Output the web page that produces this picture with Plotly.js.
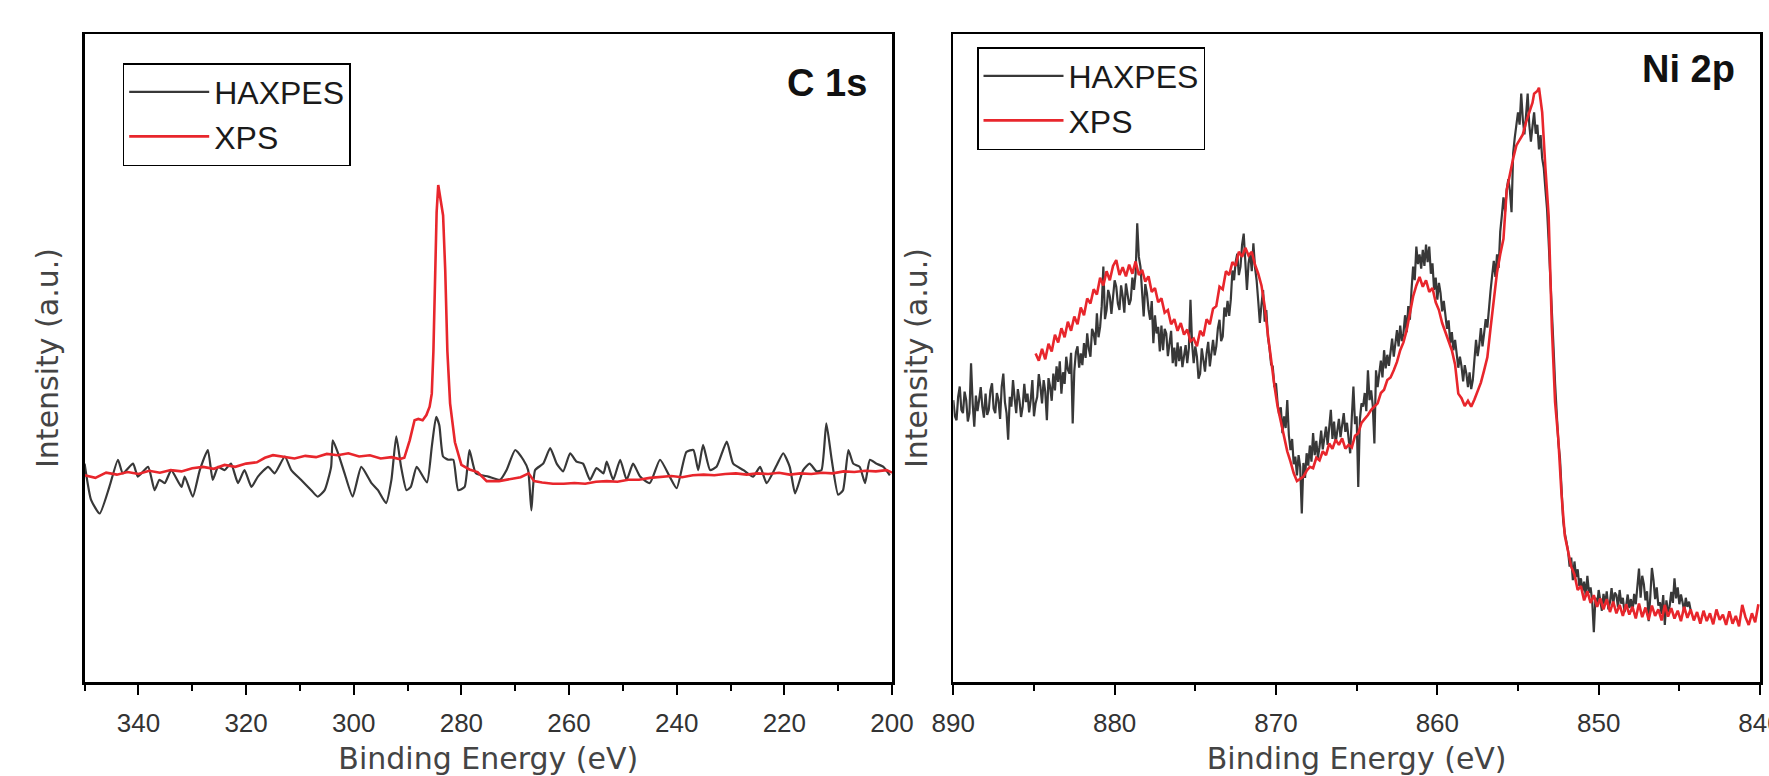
<!DOCTYPE html>
<html>
<head>
<meta charset="utf-8">
<script src="https://cdn.plot.ly/plotly-3.0.1.min.js"></script>
<style>html,body{margin:0;padding:0;background:#fff;}#chart{width:1769px;height:776px;}</style>
</head>
<body>
<div id="chart"></div>
<script>
// ---------- C 1s panel ----------
const c1sHaxpesE = [350.0,348.8,347.2,345.4,343.8,342.9,341.0,340.1,338.2,337.0,
  336.1,335.1,333.9,332.0,331.4,329.9,328.6,327.1,326.2,325.2,
  324.0,322.8,321.5,320.3,319.0,317.8,315.9,314.7,312.8,311.6,
  309.8,307.9,306.7,305.4,304.2,303.9,302.9,301.7,300.2,298.6,
  296.7,295.5,294.0,293.0,292.1,291.2,290.2,289.4,288.3,286.4,
  285.5,284.7,284.1,283.4,282.4,281.5,280.6,279.4,278.5,277.3,
  275.0,272.8,271.6,270.0,268.5,267.6,267.0,266.3,264.8,263.5,
  262.3,261.1,259.8,258.6,257.4,256.1,254.9,253.6,253.0,251.8,
  250.5,249.3,248.1,246.8,245.0,243.1,241.3,240.0,238.2,236.9,
  236.0,235.1,233.8,232.6,230.7,229.5,227.6,225.8,224.5,223.3,
  221.4,220.2,219.0,218.0,216.5,215.3,214.0,213.1,212.2,211.2,
  210.0,209.1,208.1,207.2,206.0,205.0,204.1,202.9,201.6,200.4];
const c1sHaxpesI = [33.7,28.1,26.0,30.1,34.3,32.2,33.7,31.7,33.2,29.6,
  31.2,30.7,32.7,30.1,31.7,28.6,32.7,35.8,31.2,33.2,
  32.7,33.7,30.7,32.7,30.1,31.7,33.2,32.2,34.8,32.7,
  31.2,29.6,28.6,29.6,33.2,37.3,35.3,32.2,28.6,33.2,
  30.7,29.6,27.6,31.2,37.9,33.2,29.6,30.1,33.2,30.8,
  36.3,40.9,39.6,34.8,34.3,34.3,29.6,30.1,35.8,32.2,
  31.7,31.2,32.7,35.8,34.3,32.7,26.5,32.7,33.7,36.1,
  33.7,32.5,35.3,34.0,33.7,31.2,33.0,32.2,34.0,31.2,
  34.3,31.2,33.7,31.7,30.7,34.3,31.7,29.9,35.5,35.8,
  32.7,36.6,32.7,33.2,37.1,33.7,32.7,31.7,33.2,30.7,
  33.5,35.3,33.2,29.1,32.7,33.7,32.5,32.7,39.9,34.3,
  28.9,29.6,35.8,33.7,33.2,30.7,34.3,33.7,33.2,31.9];

const c1sXpsE = [350,348,346,344,342,340,338,336,334,332,
  330,328,326,324,322,320,318,316.5,315,313,
  311,309,307,305,303,301,299,297,295,293,
  291.5,290.6,289.6,288.7,288.0,287.2,286.5,285.9,285.5,285.2,
  284.9,284.6,284.3,284.1,283.8,283.4,283.0,282.6,282.1,281.2,
  280,278.5,277,275.3,273,271,269,267.5,266.5,265,
  263,261,259,257,255,253,251,249,247,245,
  243,241,239,237,235,233,231,229,227,225,
  223,221,219,217,215,213,211,209,207,205,
  203,201,200];
const c1sXpsI = [31.9,31.5,32.3,32.0,32.4,32.1,32.6,32.3,32.7,32.5,
  33.0,33.2,32.9,33.5,33.2,33.7,33.9,34.6,35.0,34.8,
  34.5,34.9,34.7,35.2,35.0,35.3,34.8,35.0,34.5,34.7,
  34.4,34.6,37.3,40.4,40.6,40.4,41.2,42.5,44.5,51.0,
  63.5,72.5,76.7,75.5,74.5,72.0,63.5,51.0,43.0,37.0,
  33.5,32.8,32.4,31.0,31.0,31.3,31.6,32.2,31.0,30.8,
  30.6,30.6,30.7,30.6,30.9,31.0,30.9,31.2,31.2,31.5,
  31.6,31.8,31.6,31.9,32.0,31.9,32.1,32.2,32.0,32.2,
  32.1,32.3,32.0,32.2,32.1,32.3,32.2,32.5,32.4,32.6,
  32.5,32.7,32.3];

// ---------- Ni 2p panel: [binding energy (eV), intensity] ----------
const ni2pHaxpes = [
  [890.0,43.5],[889.9,41.0],[889.8,40.4],[889.7,44.0],[889.6,45.6],[889.5,42.0],[889.4,41.5],[889.3,44.8],[889.2,43.5],[889.1,40.2],
  [889.0,41.5],[888.9,49.2],[888.8,43.0],[888.7,39.4],[888.6,44.2],[888.5,41.8],[888.4,43.5],[888.3,45.5],[888.2,42.5],[888.1,40.8],
  [888.0,44.5],[887.9,41.2],[887.8,42.0],[887.7,45.0],[887.6,46.1],[887.5,42.2],[887.4,41.5],[887.3,44.6],[887.2,43.5],[887.1,40.6],
  [887.0,45.6],[886.9,47.6],[886.8,43.2],[886.7,41.5],[886.6,37.4],[886.5,44.0],[886.4,42.5],[886.3,46.6],[886.2,43.8],[886.1,41.5],
  [886.0,45.2],[885.9,43.5],[885.8,40.9],[885.7,42.5],[885.6,46.0],[885.5,43.2],[885.4,44.5],[885.3,41.6],[885.2,43.5],[885.1,46.6],
  [885.0,41.0],[884.9,43.0],[884.8,44.0],[884.7,47.5],[884.6,45.6],[884.5,43.0],[884.4,46.6],[884.3,44.8],[884.2,40.4],[884.1,46.9],
  [884.0,45.6],[883.9,43.4],[883.8,47.6],[883.7,45.0],[883.6,48.7],[883.5,46.3],[883.4,49.5],[883.3,44.5],[883.2,47.8],[883.1,46.0],
  [883.0,50.2],[882.9,48.2],[882.8,47.6],[882.7,50.8],[882.6,39.9],[882.5,48.0],[882.4,50.9],[882.3,51.8],[882.2,48.5],[882.1,50.7],
  [882.0,48.9],[881.9,52.3],[881.8,50.0],[881.7,53.8],[881.6,51.4],[881.5,50.2],[881.4,54.5],[881.3,53.8],[881.2,52.0],[881.1,56.9],
  [881.0,53.2],[880.9,54.8],[880.8,58.0],[880.7,64.1],[880.6,56.0],[880.5,57.4],[880.4,60.5],[880.3,59.5],[880.2,56.8],[880.1,59.0],
  [880.0,62.0],[879.9,61.0],[879.8,58.4],[879.7,57.4],[879.6,61.2],[879.5,59.5],[879.4,57.0],[879.3,61.5],[879.2,60.0],[879.1,58.2],
  [879.0,59.0],[878.9,62.4],[878.8,60.5],[878.7,63.0],[878.6,70.8],[878.5,65.6],[878.4,64.1],[878.3,59.6],[878.2,56.4],[878.1,61.4],
  [878.0,60.0],[877.9,57.5],[877.8,55.9],[877.7,58.8],[877.6,52.3],[877.5,56.6],[877.4,53.8],[877.3,54.8],[877.2,51.0],[877.1,55.0],
  [877.0,51.2],[876.9,54.5],[876.8,53.8],[876.7,50.3],[876.6,52.8],[876.5,54.2],[876.4,49.2],[876.3,51.6],[876.2,48.7],[876.1,52.4],
  [876.0,49.5],[875.9,51.8],[875.8,48.6],[875.7,50.7],[875.6,52.0],[875.5,49.2],[875.4,51.5],[875.3,59.0],[875.2,52.2],[875.1,49.2],
  [875.0,51.8],[874.9,50.2],[874.8,46.8],[874.7,47.6],[874.6,51.5],[874.5,49.7],[874.4,47.9],[874.3,50.7],[874.2,52.5],[874.1,48.7],
  [874.0,51.0],[873.9,52.8],[873.8,50.4],[873.7,51.8],[873.6,54.6],[873.5,55.9],[873.4,52.6],[873.3,53.3],[873.2,57.8],[873.1,56.4],
  [873.0,58.8],[872.9,56.5],[872.8,59.0],[872.7,63.5],[872.6,62.0],[872.5,64.8],[872.4,66.1],[872.3,62.8],[872.2,64.1],[872.1,67.5],
  [872.0,69.2],[871.9,65.0],[871.8,60.5],[871.7,64.6],[871.6,66.2],[871.5,63.4],[871.4,67.7],[871.3,64.0],[871.2,62.0],[871.1,58.8],
  [871.0,55.4],[870.9,58.2],[870.8,60.5],[870.7,55.6],[870.6,57.4],[870.5,53.2],[870.4,51.5],[870.3,49.0],[870.2,48.7],[870.1,45.5],
  [870.0,46.1],[869.9,43.0],[869.8,41.2],[869.7,42.4],[869.6,38.4],[869.5,41.0],[869.4,39.2],[869.3,43.5],[869.2,38.0],[869.1,35.8],
  [869.0,37.5],[868.9,33.6],[868.8,34.8],[868.7,31.9],[868.6,35.0],[868.5,33.2],[868.4,26.0],[868.3,33.8],[868.2,31.5],[868.1,35.3],
  [868.0,33.4],[867.9,36.5],[867.8,34.0],[867.7,38.4],[867.6,35.0],[867.5,37.2],[867.4,34.6],[867.3,36.3],[867.2,38.8],[867.1,35.9],
  [867.0,37.7],[866.9,39.4],[866.8,36.6],[866.7,38.9],[866.6,42.0],[866.5,37.5],[866.4,40.2],[866.3,36.9],[866.2,38.4],[866.1,40.6],
  [866.0,37.8],[865.9,39.5],[865.8,41.5],[865.7,38.6],[865.6,40.0],[865.5,37.6],[865.4,35.3],[865.3,40.9],[865.2,45.6],[865.1,39.8],
  [865.0,41.0],[864.9,30.1],[864.8,40.5],[864.7,43.0],[864.6,42.5],[864.5,44.6],[864.4,41.8],[864.3,48.1],[864.2,43.5],[864.1,45.0],
  [864.0,42.6],[863.9,36.8],[863.8,48.1],[863.7,45.5],[863.6,47.4],[863.5,49.6],[863.4,47.0],[863.3,51.2],[863.2,48.4],[863.1,50.5],
  [863.0,48.8],[862.9,50.7],[862.8,53.0],[862.7,50.2],[862.6,52.4],[862.5,54.3],[862.4,51.8],[862.3,55.0],[862.2,52.6],[862.1,53.8],
  [862.0,56.6],[861.9,54.0],[861.8,58.0],[861.7,55.9],[861.6,60.5],[861.5,64.1],[861.4,62.0],[861.3,67.2],[861.2,64.5],[861.1,66.0],
  [861.0,63.8],[860.9,66.7],[860.8,64.2],[860.7,67.5],[860.6,64.8],[860.5,67.2],[860.4,63.0],[860.3,64.6],[860.2,60.5],[860.1,62.4],
  [860.0,59.0],[859.9,61.6],[859.8,60.0],[859.7,57.2],[859.6,58.8],[859.5,56.4],[859.4,54.5],[859.3,55.8],[859.2,52.3],[859.1,54.0],
  [859.0,51.2],[858.9,52.8],[858.8,50.7],[858.7,48.5],[858.6,50.2],[858.5,48.7],[858.4,46.4],[858.3,48.9],[858.2,47.6],[858.1,45.5],
  [858.0,47.8],[857.9,45.2],[857.8,46.6],[857.7,49.5],[857.6,52.8],[857.5,50.3],[857.4,52.0],[857.3,54.6],[857.2,51.8],[857.1,53.8],
  [857.0,56.0],[856.9,54.7],[856.8,57.9],[856.7,60.4],[856.6,62.8],[856.5,65.0],[856.4,62.5],[856.3,66.0],[856.2,63.9],[856.1,69.5],
  [856.0,72.0],[855.9,74.8],[855.8,72.6],[855.7,76.0],[855.6,77.6],[855.5,75.8],[855.4,72.5],[855.3,81.6],[855.2,84.0],[855.1,86.2],
  [855.0,87.9],[854.9,86.0],[854.8,90.8],[854.7,86.8],[854.6,84.5],[854.5,87.5],[854.4,90.8],[854.3,86.0],[854.2,83.4],[854.1,85.8],
  [854.0,87.9],[853.9,84.6],[853.8,86.0],[853.7,82.2],[853.6,84.4],[853.5,80.8],[853.4,79.3],[853.3,76.0],[853.2,73.0],[853.1,68.0],
  [853.0,63.3],[852.9,57.6],[852.8,51.8],[852.7,46.0],[852.6,40.4],[852.5,37.0],[852.4,34.6],[852.3,29.0],[852.2,24.9],[852.1,23.0],
  [852.0,21.4],[851.9,20.3],[851.8,17.8],[851.7,19.2],[851.6,15.7],[851.5,18.6],[851.4,16.2],[851.3,17.4],[851.2,14.8],[851.1,16.0],
  [851.0,14.0],[850.9,15.5],[850.8,13.2],[850.7,16.4],[850.6,13.8],[850.5,14.6],[850.4,12.5],[850.3,7.7],[850.2,13.0],[850.1,11.6],
  [850.0,14.2],[849.9,12.8],[849.8,11.0],[849.7,13.6],[849.6,11.9],[849.5,14.0],[849.4,11.2],[849.3,12.3],[849.2,14.5],[849.1,12.0],
  [849.0,13.8],[848.9,13.4],[848.8,11.5],[848.7,14.2],[848.6,12.1],[848.5,13.0],[848.4,10.8],[848.3,11.7],[848.2,13.5],[848.1,11.4],
  [848.0,12.8],[847.9,10.9],[847.8,13.6],[847.7,12.0],[847.6,14.6],[847.5,17.5],[847.4,13.0],[847.3,16.4],[847.2,15.1],[847.1,12.6],
  [847.0,14.0],[846.9,9.4],[846.8,13.2],[846.7,17.6],[846.6,15.7],[846.5,12.8],[846.4,14.6],[846.3,11.8],[846.2,12.3],[846.1,10.5],
  [846.0,13.4],[845.9,8.8],[845.8,12.6],[845.7,10.8],[845.6,11.7],[845.5,13.9],[845.4,12.2],[845.3,16.0],[845.2,12.9],[845.1,14.6],
  [845.0,12.0],[844.9,13.5],[844.8,12.3],[844.7,10.9],[844.6,13.0],[844.5,11.6],[844.4,12.4],[844.3,11.1]
];
const ni2pXps = [
  [884.9,50.7],[884.7,49.6],[884.5,51.4],[884.3,49.8],[884.1,52.2],[883.9,51.0],[883.7,53.6],[883.5,52.4],[883.3,54.6],[883.1,53.2],
  [882.9,55.6],[882.7,54.2],[882.5,56.4],[882.3,55.2],[882.1,57.8],[881.9,56.6],[881.7,59.2],[881.5,58.4],[881.3,60.6],[881.1,59.8],
  [880.9,62.4],[880.7,61.2],[880.5,63.4],[880.3,62.0],[880.1,64.2],[879.9,65.1],[879.7,62.8],[879.5,64.0],[879.3,62.6],[879.1,64.4],
  [878.9,63.0],[878.7,64.9],[878.5,62.8],[878.3,63.6],[878.1,61.8],[877.9,62.6],[877.7,60.2],[877.5,60.8],[877.3,58.6],[877.1,59.2],
  [876.9,57.0],[876.7,57.4],[876.5,55.2],[876.3,56.0],[876.1,54.2],[875.9,55.4],[875.7,53.6],[875.5,54.4],[875.3,52.6],[875.1,53.0],
  [874.9,51.8],[874.7,54.2],[874.5,53.4],[874.3,56.0],[874.1,55.2],[873.9,57.6],[873.7,58.0],[873.5,61.0],[873.3,60.6],[873.1,63.4],
  [872.9,62.8],[872.7,64.8],[872.5,64.2],[872.3,66.4],[872.1,65.6],[871.9,67.0],[871.7,65.8],[871.5,66.4],[871.3,64.4],[871.1,63.0],
  [870.9,61.2],[870.7,58.0],[870.5,53.6],[870.3,49.2],[870.1,45.8],[869.9,42.5],[869.7,40.2],[869.5,38.4],[869.3,35.6],[869.1,34.0],
  [868.9,32.2],[868.7,31.0],[868.5,31.4],[868.3,31.7],[868.1,32.6],[867.9,33.2],[867.7,33.0],[867.5,34.6],[867.3,34.2],[867.1,35.6],
  [866.9,35.0],[866.7,36.8],[866.5,36.0],[866.3,37.4],[866.1,36.6],[865.9,37.6],[865.7,36.0],[865.5,36.6],[865.3,36.2],[865.1,38.0],
  [864.9,38.4],[864.7,40.0],[864.5,40.6],[864.3,41.2],[864.1,42.0],[863.9,42.5],[863.7,43.0],[863.5,44.6],[863.3,45.1],[863.1,46.6],
  [862.9,47.0],[862.7,48.1],[862.5,49.4],[862.3,51.2],[862.1,52.4],[861.9,54.3],[861.7,57.0],[861.5,59.5],[861.3,61.2],[861.1,62.5],
  [860.9,61.0],[860.7,62.0],[860.5,60.2],[860.3,60.8],[860.1,58.6],[859.9,57.4],[859.7,55.4],[859.5,54.0],[859.3,52.6],[859.1,51.2],
  [858.9,49.0],[858.7,44.5],[858.5,43.8],[858.3,42.6],[858.1,43.4],[857.9,42.5],[857.7,43.6],[857.5,45.0],[857.3,46.2],[857.1,48.1],
  [856.9,50.1],[856.7,54.6],[856.5,59.3],[856.3,63.2],[856.1,66.0],[855.9,68.4],[855.7,75.9],[855.5,78.6],[855.3,80.8],[855.1,82.8],
  [854.9,83.6],[854.7,84.5],[854.5,86.4],[854.3,87.9],[854.1,89.4],[854.0,90.8],[853.8,91.2],[853.7,91.7],[853.5,87.9],[853.3,79.3],
  [853.1,71.9],[853.0,63.3],[852.9,54.7],[852.7,43.2],[852.5,37.5],[852.3,28.9],[852.1,22.6],[851.9,20.2],[851.7,17.8],[851.5,16.6],
  [851.3,14.2],[851.1,14.8],[850.9,12.6],[850.7,14.0],[850.5,12.2],[850.3,13.4],[850.1,11.6],[849.9,12.9],[849.7,11.2],[849.5,12.8],
  [849.3,10.8],[849.1,12.4],[848.9,10.6],[848.7,11.9],[848.5,10.2],[848.3,12.0],[848.1,10.4],[847.9,11.6],[847.7,9.8],[847.5,12.1],
  [847.3,10.0],[847.1,11.5],[846.9,9.6],[846.7,11.8],[846.5,10.2],[846.3,11.2],[846.1,9.5],[845.9,11.9],[845.7,10.1],[845.5,11.4],
  [845.3,9.8],[845.1,11.0],[844.9,9.4],[844.7,11.6],[844.5,9.9],[844.3,11.2],[844.1,9.5],[843.9,10.8],[843.7,9.0],[843.5,11.0],
  [843.3,9.4],[843.1,10.6],[842.9,8.9],[842.7,11.2],[842.5,9.6],[842.3,10.4],[842.1,8.8],[841.9,10.9],[841.7,9.0],[841.5,10.2],
  [841.3,8.6],[841.1,11.9],[840.9,10.0],[840.7,8.8],[840.5,10.6],[840.3,9.2],[840.1,12.0]
];

const seriesNames = ['HAXPES', 'XPS'];
const panelLabels = ['C 1s', 'Ni 2p'];
const c1sTicks = [340, 320, 300, 280, 260, 240, 220, 200];
const ni2pTicks = [890, 880, 870, 860, 850, 840];

const BLACK = '#383838', RED = '#e8262c';
const tickFont = {family: 'Liberation Sans, Arial, sans-serif', size: 26, color: '#333'};
const titleFont = {family: 'DejaVu Sans, sans-serif', size: 30, color: '#444'};
const legFont = {family: 'Liberation Sans, Arial, sans-serif', size: 32, color: '#1a1a1a'};

const traces = [
  {x: c1sHaxpesE, y: c1sHaxpesI, name: seriesNames[0], type: 'scatter', mode: 'lines',
   line: {color: BLACK, width: 2.2, shape: 'spline', smoothing: 0.5}, xaxis: 'x', yaxis: 'y', legend: 'legend'},
  {x: c1sXpsE, y: c1sXpsI, name: seriesNames[1], type: 'scatter', mode: 'lines',
   line: {color: RED, width: 2.6}, xaxis: 'x', yaxis: 'y', legend: 'legend'},
  {x: ni2pHaxpes.map(p => p[0]), y: ni2pHaxpes.map(p => p[1]), name: seriesNames[0], type: 'scatter', mode: 'lines',
   line: {color: BLACK, width: 2.2}, xaxis: 'x2', yaxis: 'y2', legend: 'legend2'},
  {x: ni2pXps.map(p => p[0]), y: ni2pXps.map(p => p[1]), name: seriesNames[1], type: 'scatter', mode: 'lines',
   line: {color: RED, width: 2.6}, xaxis: 'x2', yaxis: 'y2', legend: 'legend2'}
];

function xAxis(domain, range, ticks, minorStep) {
  return {
    domain: domain, range: range, tickmode: 'array', tickvals: ticks, ticktext: ticks.map(String),
    showline: true, mirror: true, linecolor: '#000', linewidth: 2.5,
    ticks: 'outside', ticklen: 10, tickwidth: 2, tickcolor: '#000',
    minor: {dtick: minorStep, ticks: 'outside', ticklen: 6, tickwidth: 2, tickcolor: '#000', showgrid: false},
    showgrid: false, zeroline: false, tickfont: tickFont, ticklabelstandoff: 6, ticklabeloverflow: 'allow',
    title: {text: 'Binding Energy (eV)', font: titleFont, standoff: 26},
    fixedrange: true
  };
}
function yAxis(domain, anchor) {
  return {
    domain: domain, range: [0, 100], anchor: anchor, showticklabels: false, ticks: '',
    showline: true, mirror: true, linecolor: '#000', linewidth: 2.5,
    showgrid: false, zeroline: false,
    title: {text: 'Intensity (a.u.)', font: titleFont, standoff: 15},
    fixedrange: true
  };
}

const yDom = [1 - 682/776, 1 - 34/776];
const legendBase = {xanchor: 'left', yanchor: 'top', bgcolor: 'rgba(255,255,255,0)',
  bordercolor: '#000', borderwidth: 1.5, font: legFont, itemwidth: 80, tracegroupgap: 0};
const layout = {
  width: 1769, height: 776, autosize: false,
  margin: {l: 0, r: 0, t: 0, b: 0},
  paper_bgcolor: '#fff', plot_bgcolor: '#fff',
  showlegend: true,
  xaxis: Object.assign(xAxis([84.6/1769, 892/1769], [350, 200], c1sTicks, 10), {anchor: 'y'}),
  yaxis: yAxis(yDom, 'x'),
  xaxis2: Object.assign(xAxis([953.3/1769, 1760/1769], [890, 840], ni2pTicks, 5), {anchor: 'y2'}),
  yaxis2: yAxis(yDom, 'x2'),
  legend: Object.assign({x: 122.7/1769, y: 1 - 63/776}, legendBase),
  legend2: Object.assign({x: 977/1769, y: 1 - 47/776}, legendBase),
  annotations: [
    {text: '<b>' + panelLabels[0] + '</b>', xref: 'paper', yref: 'paper', x: 869/1769, y: 1 - 60/776,
     xanchor: 'right', yanchor: 'top', showarrow: false, font: {family: 'Liberation Sans, Arial, sans-serif', size: 38, color: '#111'}},
    {text: '<b>' + panelLabels[1] + '</b>', xref: 'paper', yref: 'paper', x: 1737/1769, y: 1 - 46/776,
     xanchor: 'right', yanchor: 'top', showarrow: false, font: {family: 'Liberation Sans, Arial, sans-serif', size: 38, color: '#111'}}
  ]
};

Plotly.newPlot('chart', traces, layout, {staticPlot: true, displayModeBar: false});
</script>
</body>
</html>
